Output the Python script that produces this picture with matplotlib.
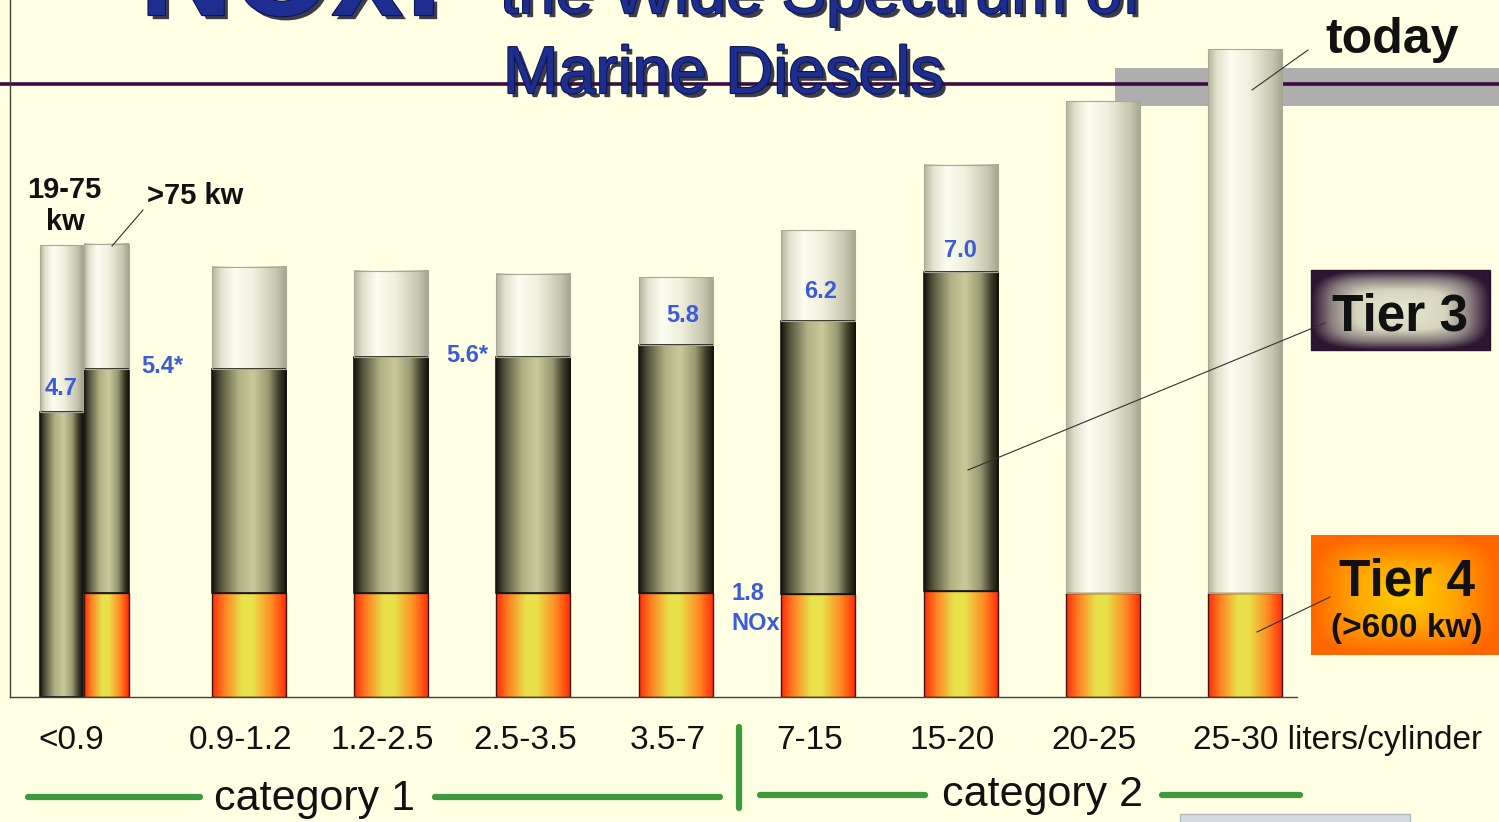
import numpy as np
import matplotlib
matplotlib.use("Agg")
import matplotlib.pyplot as plt
from matplotlib.colors import LinearSegmentedColormap
import matplotlib.patheffects as pe

plt.rcParams['font.family'] = ['Liberation Sans', 'DejaVu Sans']

# cylinder displacement classes, liters/cylinder
categories = ["<0.9", "0.9-1.2", "1.2-2.5", "2.5-3.5", "3.5-7", "7-15", "15-20", "20-25", "25-30"]
# NOx limits (g/kW-hr)
today = [7.47, 7.09, 7.02, 6.97, 6.92, 7.70, 8.77, 9.83, 10.68]
tier3 = [5.4, 5.4, 5.6, 5.6, 5.8, 6.2, 7.0, np.nan, np.nan]
tier4 = [1.72, 1.72, 1.72, 1.72, 1.72, 1.70, 1.74, 1.72, 1.72]
# extra 19-75 kw bar inside the <0.9 class
small_today = 7.45
small_tier3 = 4.7
tier3_labels = ["4.7", "5.4*", "5.6*", "5.8", "6.2", "7.0"]

W, H = 1499, 822
BG = '#FFFFE3'
BLUE = '#3B5BDB'

fig = plt.figure(figsize=(W / 100, H / 100), dpi=100, facecolor=BG)

# background layer: rule, grey band, title (pixel coords)
bg = fig.add_axes([0, 0, 1, 1], zorder=0)
bg.set_xlim(0, W); bg.set_ylim(H, 0); bg.axis('off')
bg.add_patch(plt.Rectangle((1115, 68), W - 1115, 38, color='#AEAEAE', lw=0, zorder=1))
bg.plot([0, W], [84, 84], color='#3C0C40', lw=2.6, zorder=2)
shadow = [pe.SimplePatchShadow(offset=(3, -3), shadow_rgbFace='#1A1A30', alpha=0.85),
          pe.Stroke(linewidth=1.6, foreground='#0E1650'), pe.Normal()]
TITLE = '#1E2E90'
# title runs off the top edge, as on the slide
bg.text(140, 15, "NOx:", fontsize=92, fontweight='bold', color=TITLE, va='baseline',
        path_effects=shadow, zorder=3)
bg.text(500, 13, "the Wide Spectrum of", fontsize=48, color=TITLE, va='baseline',
        path_effects=shadow, zorder=3)
bg.text(503, 93, "Marine Diesels", fontsize=48, color=TITLE, va='baseline',
        path_effects=shadow, zorder=3)

# main chart: 60.65 px per g/kW-hr, baseline at y=697 px
ax = fig.add_axes([10 / W, 125 / H, 1287 / W, 697 / H], zorder=1)
ax.patch.set_alpha(0)
for s in ('top', 'right'):
    ax.spines[s].set_visible(False)
for s in ('left', 'bottom'):
    ax.spines[s].set_color('#404040'); ax.spines[s].set_linewidth(1)
ax.set_xticks([]); ax.set_yticks([])

cm_today = LinearSegmentedColormap.from_list('today', [
    (0, '#B4B49C'), (0.12, '#E2E2CE'), (0.3, '#FDFDF0'), (0.55, '#F0F0DE'),
    (0.85, '#C8C8B0'), (1, '#A4A48C')])
cm_t3 = LinearSegmentedColormap.from_list('t3', [
    (0, '#16160E'), (0.12, '#56563E'), (0.35, '#B0B084'), (0.55, '#C9C99C'),
    (0.75, '#9A9A72'), (0.9, '#3C3C28'), (1, '#121208')])
cm_t4 = LinearSegmentedColormap.from_list('t4', [
    (0, '#FF2A0A'), (0.15, '#FF7A20'), (0.4, '#E8E24C'), (0.55, '#EAE04A'),
    (0.8, '#FF8A22'), (1, '#FF2808')])


def paint(bars, cmap):
    grad = np.linspace(0, 1, 256)[None, :]
    for p in bars:
        x0, y0 = p.get_x(), p.get_y()
        ax.imshow(grad, cmap=cmap, aspect='auto', interpolation='bilinear',
                  extent=(x0, x0 + p.get_width(), y0, y0 + p.get_height()), zorder=1)
        p.set_zorder(2)


x = np.arange(len(categories), dtype=float)
widths = np.array([0.316] + [0.52] * 8)
t3 = np.array(tier3); t4 = np.array(tier4); tot = np.array(today)
has3 = ~np.isnan(t3)

b4 = ax.bar(x, t4, width=widths, facecolor='none', edgecolor='#40120A', lw=1)
paint(b4, cm_t4)
b3 = ax.bar(x[has3], t3[has3] - t4[has3], bottom=t4[has3], width=widths[has3],
            facecolor='none', edgecolor='#151510', lw=1.2)
paint(b3, cm_t3)
base = np.where(has3, t3, t4)
bt = ax.bar(x, tot - base, bottom=base, width=widths, facecolor='none',
            edgecolor='#A8A898', lw=0.8)
paint(bt, cm_today)

xs = -0.315
bs3 = ax.bar(xs, small_tier3, width=0.302, facecolor='none', edgecolor='#151510', lw=1.2)
paint(bs3, cm_t3)
bst = ax.bar(xs, small_today - small_tier3, bottom=small_tier3, width=0.302,
             facecolor='none', edgecolor='#A8A898', lw=0.8)
paint(bst, cm_today)

ax.set_xlim(-0.677, 8.363)
ax.set_ylim(0, 697 / 60.65)

# tier 3 value labels
lab_x = [xs, 0.39, 2.533, 4.05, 5.02, 6.0]
lab_lvl = [small_tier3, tier3[0], tier3[2], tier3[4], tier3[5], tier3[6]]
lab_dy = [23, 3, 2, 30, 29, 22]
for t, lx, lv, dy in zip(tier3_labels, lab_x, lab_lvl, lab_dy):
    ax.annotate(t, (lx, lv), xytext=(0, dy * 0.72), textcoords='offset points',
                ha='center', va='center', fontsize=17, fontweight='bold', color=BLUE,
                annotation_clip=False, zorder=5)
ax.annotate("1.8", (4.506, tier4[4]), xytext=(0, -1 * 0.72), textcoords='offset points',
            ha='center', va='center', fontsize=17, fontweight='bold', color=BLUE,
            annotation_clip=False, zorder=5)
ax.annotate("NOx", (4.562, tier4[4]), xytext=(0, -31 * 0.72), textcoords='offset points',
            ha='center', va='center', fontsize=17, fontweight='bold', color=BLUE,
            annotation_clip=False, zorder=5)

# category tick labels
lab_off = [-0.25] + [-0.06] * 7
for i, c in enumerate(categories[:-1]):
    ax.text(x[i] + lab_off[i], -0.71, c, ha='center', va='center', fontsize=24,
            color='#111111', clip_on=False)
ax.text(7.632, -0.71, categories[-1] + " liters/cylinder", ha='left', va='center',
        fontsize=24, color='#111111', clip_on=False)

# overlay: callouts, boxes, category brackets (pixel coords)
ov = fig.add_axes([0, 0, 1, 1], zorder=2)
ov.patch.set_alpha(0)
ov.axis('off')

for seg in [((1308, 50), (1252, 90)), ((1325, 323), (968, 470)),
            ((1330, 597), (1257, 632)), ((143, 210), (112, 246))]:
    (x0, y0), (x1, y1) = seg
    ov.plot([x0, x1], [y0, y1], color='#303030', lw=0.8)

ov.text(1325, 53, "today", fontsize=36, fontweight='bold', color='#111111', va='baseline')
ov.text(64, 198, "19-75", fontsize=21, fontweight='bold', color='#111111',
        ha='center', va='baseline')
ov.text(65, 230, "kw", fontsize=21, fontweight='bold', color='#111111',
        ha='center', va='baseline')
ov.text(147, 204, ">75 kw", fontsize=21, fontweight='bold', color='#111111', va='baseline')

u = np.linspace(-1, 1, 240)
U, V = np.meshgrid(u, np.linspace(-1, 1, 160))
dist = (np.abs(U) ** 4 + np.abs(V) ** 4) ** 0.25
cm_box3 = LinearSegmentedColormap.from_list('b3', [
    (0, '#E8E8D0'), (0.5, '#D6D4BC'), (0.78, '#8A7E80'), (1, '#2C1632')])
cm_box4 = LinearSegmentedColormap.from_list('b4', [
    (0, '#FFD000'), (0.5, '#FFA800'), (1, '#FF6600')])
ov.imshow(dist, cmap=cm_box3, vmin=0, vmax=1, extent=(1311, 1490, 350, 270),
          aspect='auto', interpolation='bilinear', zorder=1)
ov.add_patch(plt.Rectangle((1311, 270), 179, 80, fill=False, ec='#2A1430', lw=1, zorder=2))
ov.text(1400, 330, "Tier 3", fontsize=37, fontweight='bold', color='#111111',
        ha='center', va='baseline', zorder=3)
ov.imshow(dist, cmap=cm_box4, vmin=0, vmax=1, extent=(1311, 1499, 655, 535),
          aspect='auto', interpolation='bilinear', zorder=1)
ov.text(1407, 595, "Tier 4", fontsize=37, fontweight='bold', color='#111111',
        ha='center', va='baseline', zorder=3)
ov.text(1407, 637, "(>600 kw)", fontsize=24, fontweight='bold', color='#111111',
        ha='center', va='baseline', zorder=3)

GREEN = '#3C9A3C'
for (x0, x1, y) in [(28, 200, 797), (435, 720, 797), (760, 925, 795), (1162, 1300, 795)]:
    ov.plot([x0, x1], [y, y], color=GREEN, lw=4.5, solid_capstyle='round')
ov.plot([739, 739], [727, 808], color=GREEN, lw=4.5, solid_capstyle='round')
ov.text(315, 810, "category 1", fontsize=31, color='#111111', ha='center', va='baseline')
ov.text(1043, 806, "category 2", fontsize=31, color='#111111', ha='center', va='baseline')

ov.add_patch(plt.Rectangle((1180, 814), 230, 12, fc='#D4DAE0', ec='#B0B8C0', lw=1))

ov.set_xlim(0, W); ov.set_ylim(H, 0)

fig.savefig('out.png', dpi=100, facecolor=BG)
